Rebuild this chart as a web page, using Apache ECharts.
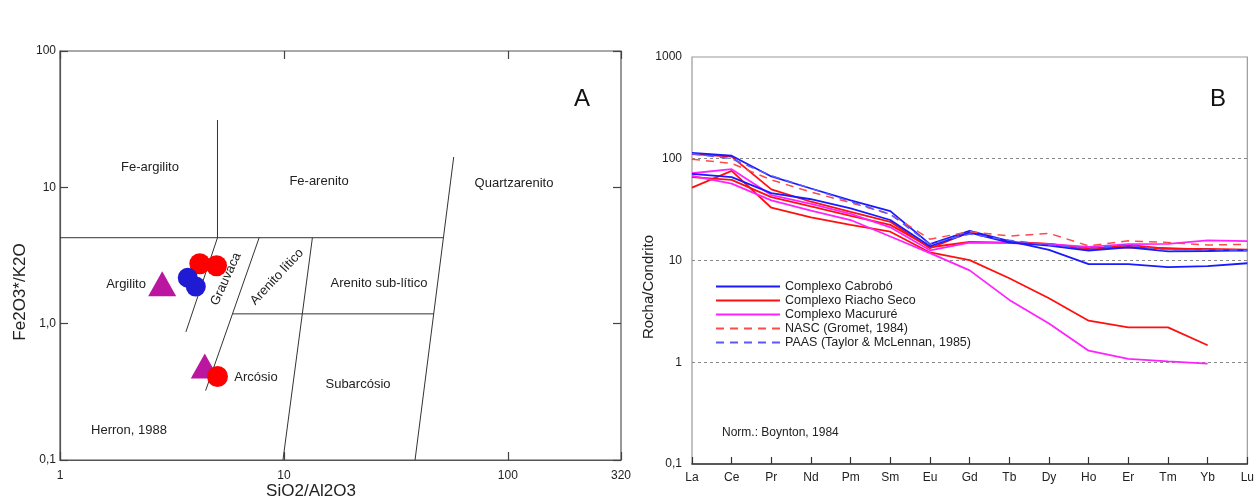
<!DOCTYPE html>
<html>
<head>
<meta charset="utf-8">
<script src="https://cdn.jsdelivr.net/npm/echarts@6.0.0/dist/echarts.min.js"></script>
<style>
html, body { margin: 0; padding: 0; background: #fff; }
#main { width: 1257px; height: 497px; }
</style>
</head>
<body>
<div id="main"></div>
<script>
// fonte
var ff = 'Arial, "Liberation Sans", sans-serif';

// cores
var cabrobo_color = '#1e1bd2';
var riacho_color = '#ff0000';
var macurure_color = '#bb169f';
var cabrobo_line = '#1a1aff';
var riacho_line = '#ff1010';
var macurure_line = '#ff22ff';

// ===== Painel A: Herron, 1988 =====
// pontos (SiO2/Al2O3, Fe2O3*/K2O)
var cabroboPts = [[3.72, 2.17], [4.04, 1.87]];
var riachoPts = [[4.21, 2.75], [5.0, 2.66], [5.05, 0.41]];
var macururePts = [[2.86, 1.96], [4.43, 0.49]];

// limites dos campos
var herronLines = [
    [[1, 4.27], [51.5, 4.27]],
    [[5.05, 31.2], [5.05, 4.27]],
    [[5.05, 4.27], [3.65, 0.87]],
    [[7.75, 4.27], [4.47, 0.323]],
    [[13.4, 4.27], [9.9, 0.1]],
    [[5.89, 1.18], [46.7, 1.18]],
    [[57.3, 16.7], [38.5, 0.1]]
];

// ===== Painel B: ETR normalizados =====
var elements = ['La', 'Ce', 'Pr', 'Nd', 'Pm', 'Sm', 'Eu', 'Gd', 'Tb', 'Dy', 'Ho', 'Er', 'Tm', 'Yb', 'Lu'];

var cabrobo1 = [114, 107, 67, 51, 39, 30.6, 14.5, 19.6, 15.5, 12.7, 9.2, 9.2, 8.6, 8.8, 9.4];
var cabrobo2 = [71, 66, 46, 40, 32.6, 25, 13.8, 18.8, 15, 14, 12.5, 13.5, 12.3, 12.4, 12.6];
var riacho1 = [111, 105, 50, 37.8, 30, 24, 13.2, 19, 15.2, 14.6, 12.8, 14.2, 13, 13, 12.8];
var riacho2 = [52, 76, 33, 26.6, 22.4, 19.2, 12, 10.1, 6.7, 4.25, 2.56, 2.2, 2.2, 1.47, null];
var riacho3 = [66, 62, 42, 34, 27.4, 22.4, 13.5, 15.2, 15, 14.6, 13.2, 13.5, 13.2, 12.8, 12.5];
var macurure1 = [72, 79, 44, 36, 28.7, 21.2, 12.6, 15, 14.8, 14.5, 13.6, 14.5, 14.6, 15.8, 15.5];
var macurure2 = [68, 57, 39, 31, 25, 17.2, 11.8, 8, 4.1, 2.4, 1.3, 1.08, 1.02, 0.97, null];
var nasc = [99, 90, 62, 47, 37, 28.5, 16.2, 19.2, 17.4, 18.5, 13.9, 15.6, 15, 14.2, 14.4];
var paas = [112, 100, 68, 51, 38, 28.5, 14.5, 18.2, 15.8, 14.2, 13.2, 14.3, 12.5, 12.8, 12.6];

var legendNames = ['Complexo Cabrobó', 'Complexo Riacho Seco', 'Complexo Macururé',
    'NASC (Gromet, 1984)', 'PAAS (Taylor & McLennan, 1985)'];

// rótulos dos eixos log
var labelA = { '-1': '0,1', '0': '1,0', '1': '10', '2': '100' };
var labelB = { '-1': '0,1', '0': '1', '1': '10', '2': '100', '3': '1000' };

var myChart = echarts.init(document.getElementById('main'));

var series = [];

// linhas do diagrama
for (let i = 0; i < herronLines.length; i++) {
    series.push({
        type: 'line', xAxisIndex: 0, yAxisIndex: 0, silent: true,
        data: herronLines[i], symbol: 'none',
        lineStyle: { color: '#333', width: 1 }, z: 1
    });
}
series.push({
    type: 'scatter', name: 'A-Macururé', xAxisIndex: 0, yAxisIndex: 0,
    data: macururePts, symbol: 'triangle', symbolSize: [28, 25],
    itemStyle: { color: macurure_color, opacity: 1 }, z: 3
});
series.push({
    type: 'scatter', name: 'A-Riacho', xAxisIndex: 0, yAxisIndex: 0,
    data: riachoPts, symbol: 'circle', symbolSize: 21,
    itemStyle: { color: riacho_color, opacity: 1 }, z: 4
});
series.push({
    type: 'scatter', name: 'A-Cabrobo', xAxisIndex: 0, yAxisIndex: 0,
    data: cabroboPts, symbol: 'circle', symbolSize: 20,
    itemStyle: { color: cabrobo_color, opacity: 1 }, z: 5
});

// curvas ETR
var addLine = function (name, data, color, dashed) {
    series.push({
        type: 'line', name: name, xAxisIndex: 2, yAxisIndex: 2,
        data: data, symbol: 'none', connectNulls: false,
        lineStyle: { color: color, width: dashed ? 1.5 : 1.8, type: dashed ? [8, 6] : 'solid' },
        itemStyle: { color: color }
    });
};
addLine(legendNames[1], riacho1, riacho_line);
addLine(legendNames[1], riacho2, riacho_line);
addLine(legendNames[1], riacho3, riacho_line);
addLine(legendNames[2], macurure1, macurure_line);
addLine(legendNames[2], macurure2, macurure_line);
addLine(legendNames[0], cabrobo1, cabrobo_line);
addLine(legendNames[0], cabrobo2, cabrobo_line);
addLine(legendNames[3], nasc, '#ff4a4a', true);
addLine(legendNames[4], paas, '#5a5aff', true);

var tickA = { show: true, inside: true, length: 8, lineStyle: { color: '#444', width: 1.2 } };

option = {
    animation: false,
    backgroundColor: '#fff',
    textStyle: { fontFamily: ff },
    grid: [
        { left: 60, top: 51, width: 561, height: 409, show: true, borderColor: '#555', borderWidth: 1.2 },
        { left: 692, top: 57, width: 561, height: 407, show: true, borderColor: '#999', borderWidth: 1.2 }
    ],
    xAxis: [
        {
            gridIndex: 0, type: 'log', logBase: 10, min: 1, max: 320,
            axisLine: { lineStyle: { color: '#555', width: 1.2 } },
            axisTick: tickA, splitLine: { show: false },
            axisLabel: {
                margin: 10, color: '#222', fontSize: 12, fontFamily: ff,
                formatter: function (v) { return String(Math.round(v)); }
            }
        },
        {
            gridIndex: 0, type: 'log', logBase: 10, min: 1, max: 320, position: 'top',
            axisLine: { show: false }, axisTick: tickA, axisLabel: { show: false }, splitLine: { show: false }
        },
        {
            gridIndex: 1, type: 'category', data: elements, boundaryGap: false,
            axisLine: { lineStyle: { color: '#333', width: 1.5 } },
            axisTick: { inside: true, length: 7, lineStyle: { color: '#333', width: 1.2 } },
            axisLabel: { margin: 8, color: '#222', fontSize: 12, fontFamily: ff, interval: 0 },
            splitLine: { show: false }
        }
    ],
    yAxis: [
        {
            gridIndex: 0, type: 'log', logBase: 10, min: 0.1, max: 100,
            axisLine: { lineStyle: { color: '#555', width: 1.2 } },
            axisTick: tickA, splitLine: { show: false },
            axisLabel: {
                margin: 4, color: '#222', fontSize: 12, fontFamily: ff,
                formatter: function (v) { return labelA[Math.round(Math.log10(v))]; }
            }
        },
        {
            gridIndex: 0, type: 'log', logBase: 10, min: 0.1, max: 100, position: 'right',
            axisLine: { show: false }, axisTick: tickA, axisLabel: { show: false }, splitLine: { show: false }
        },
        {
            gridIndex: 1, type: 'log', logBase: 10, min: 0.1, max: 1000,
            axisLine: { lineStyle: { color: '#333', width: 1.5 } },
            axisTick: { show: false },
            axisLabel: {
                margin: 10, color: '#222', fontSize: 12, fontFamily: ff,
                formatter: function (v) { return labelB[Math.round(Math.log10(v))]; }
            },
            splitLine: {
                show: true, showMinLine: false, showMaxLine: false,
                lineStyle: { color: '#888', type: [3, 3], width: 1 }
            }
        }
    ],
    legend: {
        data: legendNames, left: 710, top: 275, orient: 'vertical',
        itemWidth: 64, itemHeight: 10, itemGap: 1, selectedMode: false,
        itemStyle: { opacity: 0 },
        textStyle: { fontSize: 12.5, color: '#222', fontFamily: ff }
    },
    graphic: [
        // painel A
        { type: 'text', x: 582, y: 99, style: { text: 'A', fontSize: 24, fontFamily: ff, fill: '#111', align: 'center', verticalAlign: 'middle' } },
        { type: 'text', x: 150, y: 167, style: { text: 'Fe-argilito', fontSize: 13, fontFamily: ff, fill: '#222', align: 'center', verticalAlign: 'middle' } },
        { type: 'text', x: 319, y: 181, style: { text: 'Fe-arenito', fontSize: 13, fontFamily: ff, fill: '#222', align: 'center', verticalAlign: 'middle' } },
        { type: 'text', x: 514, y: 183, style: { text: 'Quartzarenito', fontSize: 13, fontFamily: ff, fill: '#222', align: 'center', verticalAlign: 'middle' } },
        { type: 'text', x: 379, y: 283, style: { text: 'Arenito sub-lítico', fontSize: 13, fontFamily: ff, fill: '#222', align: 'center', verticalAlign: 'middle' } },
        { type: 'text', x: 358, y: 384, style: { text: 'Subarcósio', fontSize: 13, fontFamily: ff, fill: '#222', align: 'center', verticalAlign: 'middle' } },
        { type: 'text', x: 129, y: 430, style: { text: 'Herron, 1988', fontSize: 13, fontFamily: ff, fill: '#222', align: 'center', verticalAlign: 'middle' } },
        { type: 'text', x: 126, y: 284, style: { text: 'Argilito', fontSize: 13, fontFamily: ff, fill: '#222', align: 'center', verticalAlign: 'middle' } },
        { type: 'text', x: 256, y: 377, style: { text: 'Arcósio', fontSize: 13, fontFamily: ff, fill: '#222', align: 'center', verticalAlign: 'middle' } },
        { type: 'text', x: 226, y: 279, rotation: 65.6 * Math.PI / 180, style: { text: 'Grauvaca', fontSize: 13, fontFamily: ff, fill: '#222', align: 'center', verticalAlign: 'middle' } },
        { type: 'text', x: 277, y: 277, rotation: 47 * Math.PI / 180, style: { text: 'Arenito lítico', fontSize: 13, fontFamily: ff, fill: '#222', align: 'center', verticalAlign: 'middle' } },
        { type: 'text', x: 20, y: 292, rotation: Math.PI / 2, style: { text: 'Fe2O3*/K2O', fontSize: 17, fontFamily: ff, fill: '#222', align: 'center', verticalAlign: 'middle' } },
        { type: 'text', x: 311, y: 491, style: { text: 'SiO2/Al2O3', fontSize: 17, fontFamily: ff, fill: '#222', align: 'center', verticalAlign: 'middle' } },
        // painel B
        { type: 'text', x: 1218, y: 99, style: { text: 'B', fontSize: 24, fontFamily: ff, fill: '#111', align: 'center', verticalAlign: 'middle' } },
        { type: 'text', x: 722, y: 433, style: { text: 'Norm.: Boynton, 1984', fontSize: 12, fontFamily: ff, fill: '#222', align: 'left', verticalAlign: 'middle' } },
        { type: 'text', x: 649, y: 287, rotation: Math.PI / 2, style: { text: 'Rocha/Condrito', fontSize: 15, fontFamily: ff, fill: '#222', align: 'center', verticalAlign: 'middle' } }
    ],
    series: series
};

myChart.setOption(option);
</script>
</body>
</html>
